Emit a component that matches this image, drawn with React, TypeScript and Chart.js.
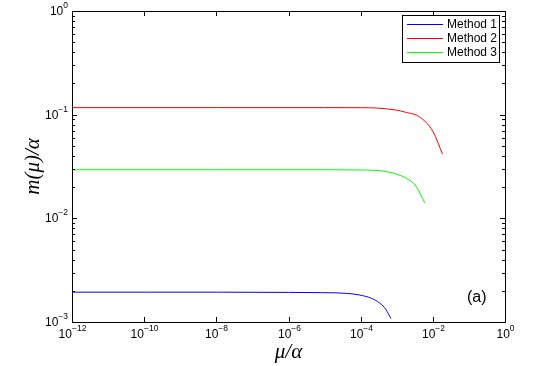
import React, { useEffect, useRef } from "react";
import { Chart, registerables } from "chart.js";

Chart.register(...registerables);

// Method 1 (blue)
const mu1 = [1e-12, 1e-10, 1e-8, 1e-6, 8.3e-6, 4e-5, 9.5e-5, 2e-4, 3.4e-4, 5e-4, 6.9e-4];
const m1 = [0.00194, 0.00194, 0.00194, 0.00193, 0.00192, 0.00189, 0.00182, 0.00169, 0.00152, 0.00132, 0.00108];
// Method 2 (red)
const mu2 = [1e-12, 1e-8, 1e-5, 1e-4, 2.8e-4, 1e-3, 1.86e-3, 3.5e-3, 6e-3, 1.02e-2, 1.86e-2];
const m2 = [0.117, 0.117, 0.117, 0.1168, 0.1158, 0.1105, 0.105, 0.0989, 0.0866, 0.0683, 0.0416];
// Method 3 (green)
const mu3 = [1e-12, 1e-8, 1e-5, 1.45e-4, 5e-4, 9.8e-4, 1.86e-3, 3.4e-3, 6e-3];
const m3 = [0.0294, 0.0294, 0.0294, 0.0292, 0.0283, 0.0267, 0.0243, 0.0205, 0.0141];

const seriesNames = ["Method 1", "Method 2", "Method 3"];
const seriesColors = ["#0000ff", "#ff0000", "#00ff00"];
const xTickExps = [-12, -10, -8, -6, -4, -2, 0];
const yTickExps = [-3, -2, -1, 0];
const xTitle = "μ/α";
const yTitle = "m(μ)/α";
const panelLabel = "(a)";

const toPts = (xs: number[], ys: number[]) => xs.map((x, i) => ({ x, y: ys[i] }));

const SANS = "'Liberation Sans', Arial, sans-serif";
const SERIF = "'Liberation Serif', 'Times New Roman', serif";

const drawPow = (
  ctx: CanvasRenderingContext2D,
  exp: number,
  x: number,
  y: number,
  align: "center" | "right"
) => {
  const base = "10";
  const sup = exp === 0 ? "0" : "−" + Math.abs(exp);
  ctx.font = `12px ${SANS}`;
  const w1 = ctx.measureText(base).width;
  ctx.font = `8.5px ${SANS}`;
  const w2 = ctx.measureText(sup).width;
  const total = w1 + w2;
  const start = align === "center" ? x - total / 2 : x - total;
  ctx.textAlign = "left";
  ctx.textBaseline = "middle";
  ctx.font = `12px ${SANS}`;
  ctx.fillText(base, start, y);
  ctx.font = `8.5px ${SANS}`;
  ctx.fillText(sup, start + w1, y - 6);
};

const decorPlugin = {
  id: "decor",
  afterDraw(chart: any) {
    const { ctx, chartArea } = chart;
    const { left, right, top, bottom } = chartArea;
    const xs = chart.scales.x;
    const ys = chart.scales.y;
    ctx.save();
    ctx.strokeStyle = "#000";
    ctx.fillStyle = "#000";
    ctx.lineWidth = 1;
    ctx.strokeRect(Math.round(left) + 0.5, Math.round(top) + 0.5, Math.round(right - left), Math.round(bottom - top));

    // x ticks
    xs.ticks.forEach((t: any) => {
      const px = Math.round(xs.getPixelForValue(t.value)) + 0.5;
      ctx.beginPath();
      ctx.moveTo(px, bottom);
      ctx.lineTo(px, bottom - 5);
      ctx.moveTo(px, top);
      ctx.lineTo(px, top + 5);
      ctx.stroke();
      const e = Math.round(Math.log10(t.value));
      drawPow(ctx, e, px, bottom + 13, "center");
    });

    // y ticks
    ys.ticks.forEach((t: any) => {
      const py = Math.round(ys.getPixelForValue(t.value)) + 0.5;
      const e = Math.floor(Math.log10(t.value) + 1e-9);
      const mant = Math.round(t.value / Math.pow(10, e));
      const len = mant === 1 ? 5 : 3;
      ctx.beginPath();
      ctx.moveTo(left, py);
      ctx.lineTo(left + len, py);
      ctx.moveTo(right, py);
      ctx.lineTo(right - len, py);
      ctx.stroke();
      if (mant === 1) drawPow(ctx, e, left - 4, py, "right");
    });

    // axis titles
    ctx.font = `italic 21px ${SERIF}`;
    ctx.textAlign = "center";
    ctx.textBaseline = "middle";
    ctx.fillText(xTitle, (left + right) / 2, 352);
    ctx.save();
    ctx.translate(33, (top + bottom) / 2);
    ctx.rotate(-Math.PI / 2);
    ctx.fillText(yTitle, 0, 0);
    ctx.restore();

    // panel label
    ctx.font = `16px ${SANS}`;
    ctx.textAlign = "left";
    ctx.fillText(panelLabel, 467, 298);

    // legend
    const lx = 402, ly = 15, lw = 97, lh = 47;
    ctx.fillStyle = "#fff";
    ctx.fillRect(lx, ly, lw, lh);
    ctx.strokeStyle = "#000";
    ctx.strokeRect(lx + 0.5, ly + 0.5, lw, lh);
    ctx.font = `12px ${SANS}`;
    ctx.textBaseline = "middle";
    chart.data.datasets.forEach((ds: any, i: number) => {
      const yy = 24.5 + i * 14;
      ctx.strokeStyle = ds.borderColor;
      ctx.beginPath();
      ctx.moveTo(407, yy);
      ctx.lineTo(443, yy);
      ctx.stroke();
      ctx.fillStyle = "#000";
      ctx.fillText(ds.label, 447, yy + 0.5);
    });
    ctx.restore();
  },
};

export default function App() {
  const ref = useRef<HTMLCanvasElement>(null);
  useEffect(() => {
    if (!ref.current) return;
    const chart = new Chart(ref.current, {
      type: "line",
      data: {
        datasets: [
          { label: seriesNames[0], data: toPts(mu1, m1), borderColor: seriesColors[0] },
          { label: seriesNames[1], data: toPts(mu2, m2), borderColor: seriesColors[1] },
          { label: seriesNames[2], data: toPts(mu3, m3), borderColor: seriesColors[2] },
        ].map((d) => ({
          ...d,
          borderWidth: 1,
          pointRadius: 0,
          cubicInterpolationMode: "monotone",
          fill: false,
        })),
      },
      options: {
        animation: false,
        responsive: false,
        maintainAspectRatio: false,
        layout: { padding: { left: 0, right: 44, top: 11, bottom: 0 } },
        plugins: { legend: { display: false }, tooltip: { enabled: false } },
        scales: {
          x: {
            type: "logarithmic",
            min: 1e-12,
            max: 1,
            grid: { display: false },
            border: { display: false },
            ticks: { display: false },
            afterBuildTicks: (s: any) => {
              s.ticks = xTickExps.map((e) => ({ value: Math.pow(10, e) }));
            },
            afterFit: (s: any) => {
              s.height = 44;
            },
          },
          y: {
            type: "logarithmic",
            min: 1e-3,
            max: 1,
            grid: { display: false },
            border: { display: false },
            ticks: { display: false },
            afterBuildTicks: (s: any) => {
              const t: any[] = [];
              for (let e = yTickExps[0]; e < yTickExps[yTickExps.length - 1]; e++) {
                for (let m = 1; m <= 9; m++) t.push({ value: m * Math.pow(10, e) });
              }
              t.push({ value: Math.pow(10, yTickExps[yTickExps.length - 1]) });
              s.ticks = t;
            },
            afterFit: (s: any) => {
              s.width = 72;
            },
          },
        },
      },
      plugins: [decorPlugin],
    } as any);
    return () => chart.destroy();
  }, []);
  return (
    <div style={{ position: "fixed", left: 0, top: 0, width: 549, height: 366, background: "#fff" }}>
      <canvas ref={ref} width={549} height={366} style={{ width: 549, height: 366, display: "block" }} />
    </div>
  );
}
